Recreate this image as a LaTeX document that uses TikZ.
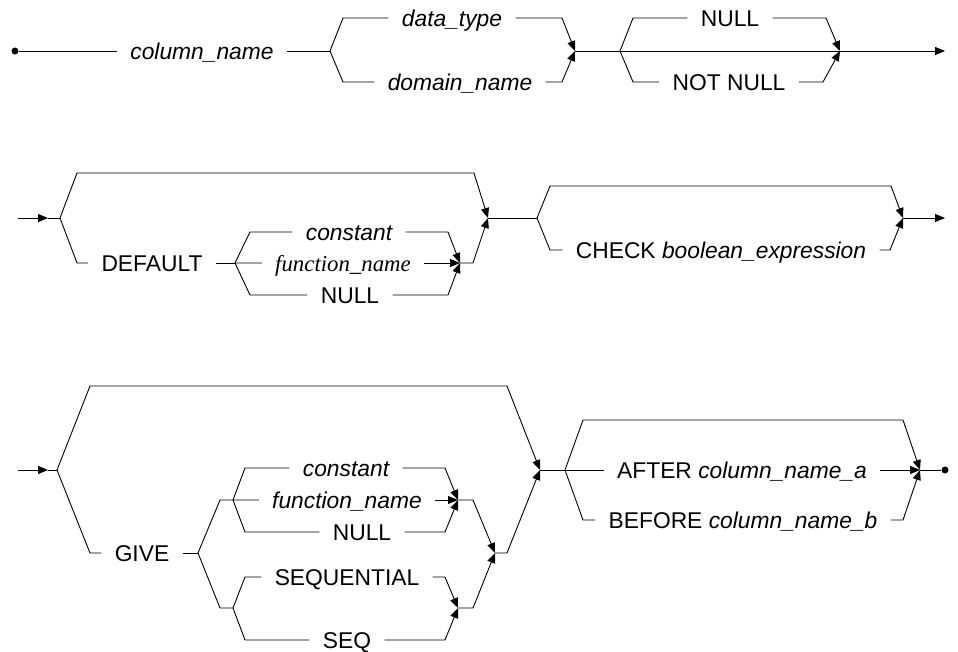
\documentclass[tikz,border=0pt]{standalone}
\usepackage{fontspec}
\setmainfont{Liberation Sans}
\newfontfamily\serifit{Liberation Serif}
\usetikzlibrary{arrows.meta}

\begin{document}
\begin{tikzpicture}[x=1pt,y=-1pt,>={Triangle[length=10pt,width=8pt]},line width=0.9pt,
    word node/.style={inner xsep=13pt,inner ysep=0pt,text height=16pt,text depth=0pt,font=\fontsize{22.8}{26}\selectfont\itshape},
    key node/.style={word node,font=\fontsize{22.8}{26}\selectfont},
    end dot/.style={fill,circle,inner sep=0pt,minimum size=7pt}]
\useasboundingbox (0,0) rectangle (958,651);

% first row
\node[end dot] (s1) at (15,51) {};
\node[word node] (cn) at (202,51) {column\_name};
\coordinate (b1) at (330,51);
\coordinate (m1) at (575,51);
\node[word node] (dt) at (452,18) {data\_type};
\node[word node] (dn) at (460,82) {domain\_name};
\coordinate (b2) at (620,51);
\coordinate (m2) at (840,51);
\node[key node] (n1) at (730,18) {NULL};
\node[key node] (nn) at (729,82) {NOT NULL};
\coordinate (e1) at (945,51);

\draw (s1) -- (cn.west) (cn.east) -- (b1);
\draw (b1) -- ++(13,-33) -- (dt.west) (b1) -- ++(13,31) -- (dn.west);
\draw[->] (dt.east) -- ([xshift=-13pt]m1 |- dt.east) -- (m1);
\draw[->] (dn.east) -- ([xshift=-13pt]m1 |- dn.east) -- (m1);
\draw (m1) -- (m2);
\draw (b2) -- ++(13,-33) -- (n1.west) (b2) -- ++(13,31) -- (nn.west);
\draw[->] (n1.east) -- ([xshift=-14pt]m2 |- n1.east) -- (m2);
\draw[->] (nn.east) -- ([xshift=-17pt]m2 |- nn.east) -- (m2);
\draw[->] (m2) -- (e1);

% second row
\coordinate (s2) at (18,218);
\coordinate (a2) at (48,218);
\coordinate (b3) at (60,218);
\coordinate (m3) at (488,218);
\node[key node] (df) at (152,263) {DEFAULT};
\coordinate (b4) at (235,263);
\coordinate (m4) at (460,263);
\node[word node] (c1) at (349,232) {constant};
\node[word node,font=\fontsize{22.8}{26}\serifit\itshape] (f1) at (343,263) {function\_name};
\node[key node] (z1) at (350,295) {NULL};
\coordinate (b5) at (537,218);
\coordinate (m5) at (903,218);
\node[key node] (ck) at (721,250) {CHECK \textit{boolean\_expression}};
\coordinate (e2) at (945,218);

\draw[->] (s2) -- (a2);
\draw (a2) -- (b3);
\draw[->] (b3) -- ++(17,-45) -- ++(397,0) -- (m3);
\draw (b3) -- ++(17,45) -- (df.west);
\draw (df.east) -- (b4);
\draw (b4) -- ++(15,-31) -- (c1.west) (b4) -- (f1.west) (b4) -- ++(15,32) -- (z1.west);
\draw[->] (c1.east) -- ([xshift=-12pt]m4 |- c1.east) -- (m4);
\draw[->] (f1.east) -- (m4);
\draw[->] (z1.east) -- ([xshift=-12pt]m4 |- z1.east) -- (m4);
\draw[->] (m4) -- ++(13,0) -- (m3);
\draw (m3) -- (b5);
\draw[->] (b5) -- ++(13,-32) -- ++(341,0) -- (m5);
\draw (b5) -- ++(13,32) -- (ck.west);
\draw[->] (ck.east) -- ([xshift=-13pt]m5 |- ck.east) -- (m5);
\draw[->] (m5) -- (e2);

% third row
\coordinate (s3) at (18,470);
\coordinate (a3) at (48,470);
\coordinate (b6) at (57,470);
\coordinate (m6) at (540,470);
\node[key node] (gv) at (142,553) {GIVE};
\coordinate (b7) at (198,553);
\coordinate (b8) at (233,500);
\coordinate (m7) at (458,500);
\node[word node] (c2) at (346,468) {constant};
\node[word node] (f2) at (347,500) {function\_name};
\node[key node] (z2) at (362,532) {NULL};
\coordinate (b9) at (233,608);
\coordinate (m9) at (458,608);
\node[key node] (sq) at (347,577) {SEQUENTIAL};
\node[key node] (sh) at (347,640) {SEQ};
\coordinate (m8) at (495,553);
\coordinate (b10) at (565,470);
\coordinate (m10) at (920,470);
\node[key node] (af) at (742,470) {AFTER \textit{column\_name\_a}};
\node[key node] (bf) at (743,520) {BEFORE \textit{column\_name\_b}};
\node[end dot] (e3) at (945,470) {};

\draw[->] (s3) -- (a3);
\draw (a3) -- (b6);
\draw[->] (b6) -- ++(33,-84) -- ++(417,0) -- (m6);
\draw (b6) -- ++(33,83) -- (gv.west);
\draw (gv.east) -- (b7);
\draw (b7) -- ++(22,-53) -- (b8) (b7) -- ++(22,55) -- (b9);
\draw (b8) -- ++(12,-32) -- (c2.west) (b8) -- (f2.west) (b8) -- ++(12,32) -- (z2.west);
\draw[->] (c2.east) -- ([xshift=-13pt]m7 |- c2.east) -- (m7);
\draw[->] (f2.east) -- (m7);
\draw[->] (z2.east) -- ([xshift=-13pt]m7 |- z2.east) -- (m7);
\draw (b9) -- ++(12,-31) -- (sq.west) (b9) -- ++(12,32) -- (sh.west);
\draw[->] (sq.east) -- ([xshift=-13pt]m9 |- sq.east) -- (m9);
\draw[->] (sh.east) -- ([xshift=-13pt]m9 |- sh.east) -- (m9);
\draw[->] (m7) -- ++(15,0) -- (m8);
\draw[->] (m9) -- ++(15,0) -- (m8);
\draw[->] (m8) -- ++(12,0) -- (m6);
\draw (m6) -- (b10);
\draw[->] (b10) -- ++(18,-50) -- ++(320,0) -- (m10);
\draw (b10) -- (af.west);
\draw[->] (af.east) -- (m10);
\draw (b10) -- ++(18,50) -- (bf.west);
\draw[->] (bf.east) -- ([xshift=-17pt]m10 |- bf.east) -- (m10);
\draw (m10) -- (e3);
\end{tikzpicture}
\end{document}
